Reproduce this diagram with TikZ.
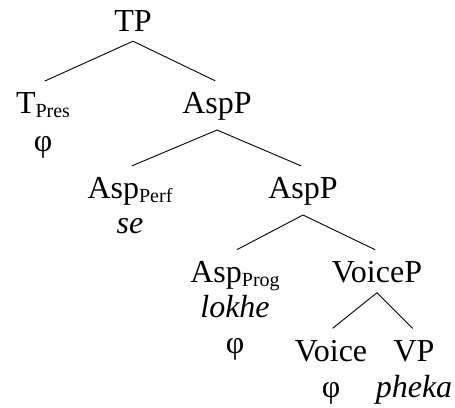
\documentclass[tikz,border=0pt]{standalone}
\usepackage{fontspec}
\setmainfont{Liberation Serif}
\usepackage{tikz}
\usetikzlibrary{positioning}

% subscript on a head label
\newcommand{\hdsub}[1]{\raisebox{-4pt}{\fontsize{20}{20}\selectfont #1}}

\begin{document}
\begin{tikzpicture}[x=1pt,y=-1pt,
    cat/.style={anchor=base, inner xsep=1pt, inner ysep=10pt, font=\fontsize{32}{38}\selectfont},
    word/.style={anchor=base, inner sep=1pt, font=\fontsize{32}{38}\selectfont},
    branch/.style={line width=0.9pt, shorten >=2pt}]

    \useasboundingbox (0,0) rectangle (455,407);

    % Draw the category labels at (x, baseline)
    \foreach \name/\x/\y/\lab in {TP/133/31/TP, TPres/43/113/T\hdsub{Pres}, AspPa/217/113/AspP,
        AspPerf/130/198/Asp\hdsub{Perf}, AspPb/303/198/AspP,
        AspProg/235/282/Asp\hdsub{Prog}, VoiceP/377/282/VoiceP,
        Voice/331/361/Voice, VP/414/361/VP} {
        \node[cat] (\name) at (\x,\y) {\lab};
    }

    % Draw the words under the heads
    \node[word] (phiT) at ([yshift=-38pt]TPres.base) {φ};
    \node[word] (se) at ([yshift=-35pt]AspPerf.base) {\textit{se}};
    \node[word] (lokhe) at ([yshift=-35pt]AspProg.base) {\textit{lokhe}};
    \node[word] (phiProg) at ([yshift=-36pt]lokhe.base) {φ};
    \node[word] (phiV) at ([yshift=-36pt]Voice.base) {φ};
    \node[word] (pheka) at ([yshift=-36pt]VP.base) {\textit{pheka}};

    % Draw the branches
    \foreach \p/\c in {TP/TPres, TP/AspPa, AspPa/AspPerf, AspPa/AspPb,
        AspPb/AspProg, AspPb/VoiceP, VoiceP/Voice, VoiceP/VP} {
        \draw[branch] (\p.south) -- (\c.north);
    }

\end{tikzpicture}
\end{document}
